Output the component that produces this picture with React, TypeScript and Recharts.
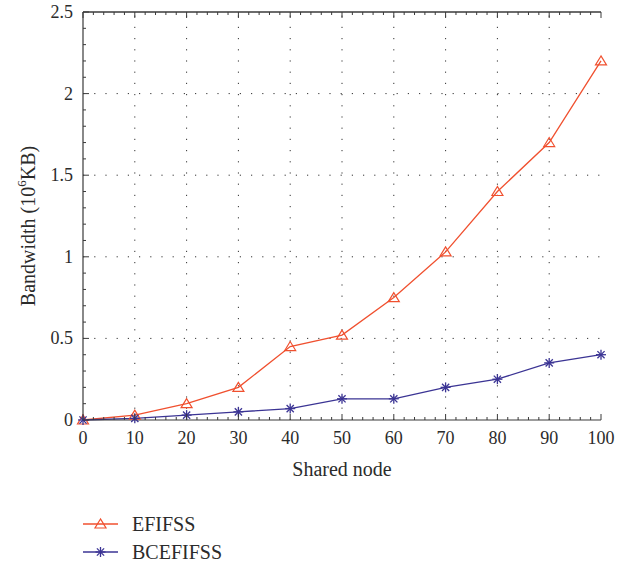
import React from 'react';
import { LineChart, Line, XAxis, YAxis, ReferenceLine, Label } from 'recharts';

const sharedNodes = [0, 10, 20, 30, 40, 50, 60, 70, 80, 90, 100];
const efifss = [0, 0.03, 0.1, 0.2, 0.45, 0.52, 0.75, 1.03, 1.4, 1.7, 2.2];
const bcefifss = [0, 0.01, 0.03, 0.05, 0.07, 0.13, 0.13, 0.2, 0.25, 0.35, 0.4];

const xMajor = [0, 10, 20, 30, 40, 50, 60, 70, 80, 90, 100];
const yMajor = [0, 0.5, 1, 1.5, 2, 2.5];
const yMajorLabels = ['0', '0.5', '1', '1.5', '2', '2.5'];

// minor ticks: every 2 on x, every 0.1 on y
const xMinor: number[] = [];
for (let i = 0; i <= 50; i++) xMinor.push(i * 2);
const yMinor: number[] = [];
for (let i = 0; i <= 25; i++) yMinor.push(i / 10);

const data = sharedNodes.map((n, i) => ({ node: n, efifss: efifss[i], bcefifss: bcefifss[i] }));

const RED = '#f0502f';
const BLUE = '#3b3494';
const AXIS = '#3a3a3a';
const TEXT = '#2b2b2b';
const FONT = "'Liberation Serif', 'DejaVu Serif', serif";

const isMajorX = (v: number) => xMajor.includes(v);
const isMajorY = (v: number) => yMajor.some(m => Math.abs(m - v) < 1e-6);

const BottomTick = (props: any) => {
  const { x, y, payload } = props;
  const major = isMajorX(payload.value);
  return (
    <g>
      <line x1={x} x2={x} y1={y} y2={y - (major ? 6 : 3)} stroke={AXIS} strokeWidth={1} />
      {major && (
        <text x={x} y={y + 24} textAnchor="middle" fontSize={18} style={{ fontFamily: FONT }} fill={TEXT}>
          {payload.value}
        </text>
      )}
    </g>
  );
};

const TopTick = (props: any) => {
  const { x, y, payload } = props;
  const major = isMajorX(payload.value);
  return <line x1={x} x2={x} y1={y} y2={y + (major ? 6 : 3)} stroke={AXIS} strokeWidth={1} />;
};

const LeftTick = (props: any) => {
  const { x, y, payload } = props;
  const major = isMajorY(payload.value);
  const idx = yMajor.findIndex(m => Math.abs(m - payload.value) < 1e-6);
  return (
    <g>
      <line x1={x} x2={x + (major ? 6 : 3)} y1={y} y2={y} stroke={AXIS} strokeWidth={1} />
      {major && (
        <text x={x - 10} y={y + 6} textAnchor="end" fontSize={18} style={{ fontFamily: FONT }} fill={TEXT}>
          {yMajorLabels[idx]}
        </text>
      )}
    </g>
  );
};

const RightTick = (props: any) => {
  const { x, y, payload } = props;
  const major = isMajorY(payload.value);
  return <line x1={x} x2={x - (major ? 6 : 3)} y1={y} y2={y} stroke={AXIS} strokeWidth={1} />;
};

const Triangle = ({ cx, cy, color }: { cx: number; cy: number; color: string }) => (
  <polygon
    points={`${cx},${cy - 5} ${cx - 5.5},${cy + 4} ${cx + 5.5},${cy + 4}`}
    fill="none"
    stroke={color}
    strokeWidth={1.2}
  />
);

const Star = ({ cx, cy, color }: { cx: number; cy: number; color: string }) => {
  const r = 5;
  const d = 3.6;
  return (
    <g stroke={color} strokeWidth={1.3}>
      <line x1={cx - r} x2={cx + r} y1={cy} y2={cy} />
      <line x1={cx} x2={cx} y1={cy - r} y2={cy + r} />
      <line x1={cx - d} x2={cx + d} y1={cy - d} y2={cy + d} />
      <line x1={cx - d} x2={cx + d} y1={cy + d} y2={cy - d} />
    </g>
  );
};

const TriDot = (props: any) => <Triangle key={`t-${props.index}`} cx={props.cx} cy={props.cy} color={RED} />;
const StarDot = (props: any) => <Star key={`s-${props.index}`} cx={props.cx} cy={props.cy} color={BLUE} />;

const gridStyle = { stroke: '#333', strokeWidth: 1, strokeDasharray: '1.2 10' };

const App: React.FC = () => {
  return (
    <div style={{ position: 'relative', width: 633, height: 565, overflow: 'hidden', fontFamily: FONT }}>
      <style>{`html, body { margin: 0; padding: 0; overflow: hidden; }`}</style>
      <LineChart
        width={633}
        height={565}
        data={data}
        margin={{ top: 11, right: 32, bottom: 115, left: 43 }}
        style={{ fontFamily: FONT, overflow: 'visible' }}
      >
        <XAxis
          dataKey="node"
          type="number"
          domain={[0, 100]}
          ticks={xMinor}
          interval={0}
          height={30}
          tickSize={0}
          tickMargin={0}
          tickLine={false}
          tick={<BottomTick />}
          axisLine={{ stroke: AXIS, strokeWidth: 1.2 }}
        >
          <Label
            content={(p: any) => {
              const vb = p.viewBox || { x: 83, y: 420, width: 518 };
              return (
                <text x={vb.x + vb.width / 2} y={vb.y + 56} textAnchor="middle" fontSize={20} style={{ fontFamily: FONT }} fill={TEXT}>
                  Shared node
                </text>
              );
            }}
          />
        </XAxis>
        <XAxis
          xAxisId="top"
          orientation="top"
          dataKey="node"
          type="number"
          domain={[0, 100]}
          ticks={xMinor}
          interval={0}
          height={1}
          tickSize={0}
          tickMargin={0}
          tickLine={false}
          tick={<TopTick />}
          axisLine={{ stroke: AXIS, strokeWidth: 1.2 }}
        />
        <YAxis
          type="number"
          domain={[0, 2.5]}
          ticks={yMinor}
          interval={0}
          width={40}
          tickSize={0}
          tickMargin={0}
          tickLine={false}
          tick={<LeftTick />}
          axisLine={{ stroke: AXIS, strokeWidth: 1.2 }}
        >
          <Label
            content={(p: any) => {
              const vb = p.viewBox || { x: 43, y: 12, width: 40, height: 408 };
              const cx = vb.x - 15;
              const cy = vb.y + vb.height / 2 + 10;
              return (
                <text
                  x={cx}
                  y={cy}
                  transform={`rotate(-90, ${cx}, ${cy})`}
                  textAnchor="middle"
                  dominantBaseline="central"
                  fontSize={20}
                  style={{ fontFamily: FONT }}
                  fill={TEXT}
                >
                  Bandwidth (10
                  <tspan dy={-7} fontSize={13}>6</tspan>
                  <tspan dy={7}>KB)</tspan>
                </text>
              );
            }}
          />
        </YAxis>
        <YAxis
          yAxisId="right"
          orientation="right"
          type="number"
          domain={[0, 2.5]}
          ticks={yMinor}
          interval={0}
          width={0}
          tickSize={0}
          tickMargin={0}
          tickLine={false}
          tick={<RightTick />}
          axisLine={{ stroke: AXIS, strokeWidth: 1.2 }}
        />
        {xMajor.slice(1, -1).map(v => (
          <ReferenceLine key={`gx-${v}`} x={v} {...gridStyle} />
        ))}
        {yMajor.slice(1, -1).map(v => (
          <ReferenceLine key={`gy-${v}`} y={v} {...gridStyle} />
        ))}
        <ReferenceLine y={2.5} stroke={AXIS} strokeWidth={1.2} />
        <Line
          type="linear"
          dataKey="efifss"
          stroke={RED}
          strokeWidth={1.3}
          dot={TriDot}
          isAnimationActive={false}
        />
        <Line
          type="linear"
          dataKey="bcefifss"
          stroke={BLUE}
          strokeWidth={1.3}
          dot={StarDot}
          isAnimationActive={false}
        />
      </LineChart>

      <div style={{ position: 'absolute', left: 83, top: 510, fontFamily: FONT, fontSize: 20, color: TEXT }}>
        {[
          { name: 'EFIFSS', color: RED, kind: 'tri' },
          { name: 'BCEFIFSS', color: BLUE, kind: 'star' },
        ].map(item => (
          <div key={item.name} style={{ display: 'flex', alignItems: 'center', height: 28 }}>
            <svg width={36} height={20} style={{ display: 'block' }}>
              <line x1={0} x2={35} y1={10} y2={10} stroke={item.color} strokeWidth={1.3} />
              {item.kind === 'tri' ? (
                <Triangle cx={17.5} cy={10} color={item.color} />
              ) : (
                <Star cx={17.5} cy={10} color={item.color} />
              )}
            </svg>
            <span style={{ marginLeft: 13, lineHeight: '20px' }}>{item.name}</span>
          </div>
        ))}
      </div>
    </div>
  );
};

export default App;
